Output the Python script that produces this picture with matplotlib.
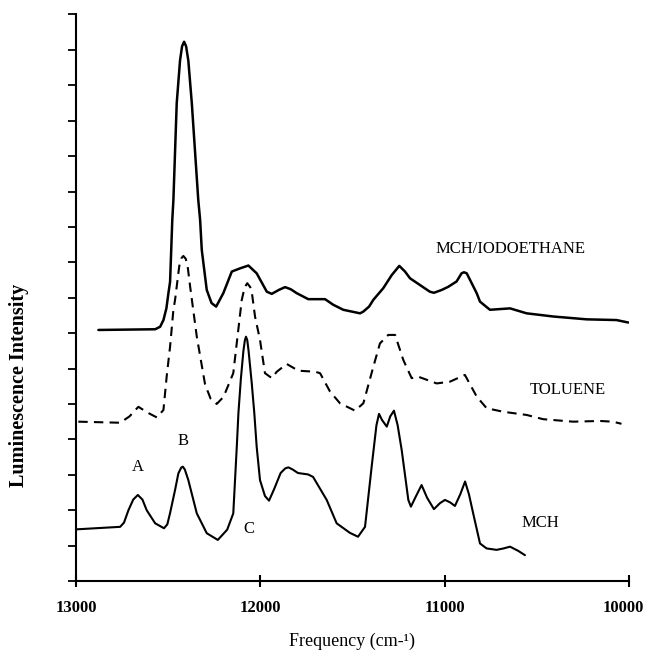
import matplotlib
matplotlib.use('Agg')
import matplotlib.pyplot as plt
import matplotlib.transforms as mtransforms

plt.rcParams['font.family'] = ['Liberation Serif', 'DejaVu Serif']

# MCH (solid, bottom)
mch_freq = [12996, 12761, 12740, 12716, 12690, 12665, 12640, 12617, 12571, 12523, 12505, 12490,
            12463, 12445, 12430, 12421, 12410, 12391, 12345, 12291, 12231, 12180, 12147,
            12128, 12119, 12106, 12092, 12084, 12078, 12071, 12064, 12047, 12033, 12020, 12002,
            11975, 11953, 11925, 11890, 11865, 11848, 11825, 11796, 11741, 11714, 11640, 11586,
            11514, 11470, 11432, 11396, 11370, 11356, 11340, 11314, 11295, 11275,
            11255, 11233, 11197, 11183, 11155, 11125, 11095, 11058, 11025, 10998,
            10970, 10944, 10915, 10889, 10868, 10845, 10808, 10772, 10718, 10680,
            10645, 10600, 10564]
mch_int = [1.46, 1.53, 1.65, 2.0, 2.3, 2.43, 2.3, 2.0, 1.63, 1.49, 1.6, 1.92,
           2.57, 3.04, 3.2, 3.23, 3.15, 2.85, 1.91, 1.35, 1.16, 1.45, 1.91,
           3.79, 4.75, 5.7, 6.5, 6.8, 6.9, 6.8, 6.5, 5.6, 4.75, 3.79, 2.85,
           2.4, 2.27, 2.6, 3.05, 3.18, 3.21, 3.15, 3.05, 3.01, 2.94, 2.29, 1.63,
           1.36, 1.25, 1.53, 3.23, 4.4, 4.72, 4.55, 4.36, 4.65, 4.81,
           4.4, 3.70, 2.29, 2.10, 2.4, 2.71, 2.35, 2.03, 2.2, 2.29,
           2.22, 2.12, 2.45, 2.81, 2.45, 1.91, 1.06, 0.92, 0.88, 0.92,
           0.97, 0.85, 0.73]

# Toluene (dashed, middle)
tol_freq = [12988, 12761, 12710, 12662, 12610, 12562, 12526, 12508, 12490, 12472,
            12463, 12440, 12428, 12418, 12405, 12395, 12381, 12345, 12300, 12270, 12237, 12200,
            12147, 12101, 12085, 12071, 12055, 12045, 12029, 12002, 11975, 11938, 11911, 11857,
            11794, 11703, 11676, 11622, 11568, 11486, 11441, 11387, 11351, 11306,
            11269, 11224, 11179, 11143, 11043, 10971, 10890, 10826, 10772, 10682,
            10555, 10465, 10302, 10157, 10087, 10040]
tol_int = [4.50, 4.47, 4.65, 4.92, 4.75, 4.62, 4.83, 5.8, 6.62, 7.66,
           7.94, 8.9, 9.12, 9.18, 9.1, 8.9, 8.31, 6.9, 5.55, 5.15, 5.0, 5.2,
           5.87, 7.94, 8.3, 8.41, 8.3, 8.1, 7.47, 6.81, 5.87, 5.73, 5.91, 6.13,
           5.94, 5.91, 5.87, 5.35, 5.02, 4.81, 5.02, 6.05, 6.71, 6.95,
           6.95, 6.24, 5.73, 5.77, 5.58, 5.63, 5.82, 5.21, 4.88, 4.78,
           4.69, 4.57, 4.50, 4.52, 4.50, 4.44]

# MCH/Iodoethane (solid, top)
iodo_freq = [12879, 12571, 12544, 12526, 12510, 12499, 12490, 12478, 12472, 12454,
             12436, 12425, 12414, 12403, 12391, 12372, 12337, 12327, 12318, 12291, 12265, 12240,
             12201, 12155, 12110, 12065, 12020, 11965, 11938, 11900, 11866, 11835, 11803, 11740,
             11649, 11604, 11550, 11459, 11441, 11410, 11387, 11333, 11287, 11246, 11215, 11188, 11134,
             11080, 11058, 11016, 10980, 10935, 10908, 10895, 10880, 10853, 10826, 10808, 10754,
             10645, 10555, 10410, 10229, 10067, 10003]
iodo_int = [7.09, 7.11, 7.18, 7.37, 7.7, 8.13, 8.45, 10.20, 10.76, 13.49,
            14.7, 15.1, 15.23, 15.1, 14.7, 13.49, 10.76, 10.20, 9.35, 8.22, 7.85, 7.75,
            8.13, 8.74, 8.83, 8.91, 8.69, 8.17, 8.11, 8.22, 8.30, 8.24, 8.13, 7.96,
            7.96, 7.80, 7.66, 7.56, 7.61, 7.75, 7.94, 8.27, 8.64, 8.90, 8.74, 8.55, 8.36,
            8.17, 8.14, 8.22, 8.31, 8.46, 8.69, 8.72, 8.69, 8.41, 8.13, 7.89, 7.66,
            7.70, 7.56, 7.47, 7.39, 7.37, 7.30]

x_ticks = [13000, 12000, 11000, 10000]

fig = plt.figure(figsize=(6.45, 6.58), dpi=100)
ax = fig.add_axes([0.118, 0.117, 0.857, 0.861])

ax.plot(iodo_freq, iodo_int, color='black', lw=1.8, solid_joinstyle='round', solid_capstyle='round')
ax.plot(tol_freq, tol_int, color='black', lw=1.5, linestyle=(0, (4.5, 3)))
ax.plot(mch_freq, mch_int, color='black', lw=1.5, solid_joinstyle='round', solid_capstyle='round')

ax.set_xlim(13000, 10000)
ax.set_ylim(0, 16)

for side in ['top', 'right']:
    ax.spines[side].set_visible(False)
for side in ['left', 'bottom']:
    ax.spines[side].set_linewidth(1.5)

ax.set_xticks(x_ticks)
ax.set_xticklabels([str(t) for t in x_ticks], fontweight='bold', fontsize=12)
ax.tick_params(axis='x', direction='inout', length=8, width=1.5, pad=10)
# last label sits against the right edge, nudge it in a little
last = ax.get_xticklabels()[-1]
last.set_transform(last.get_transform() + mtransforms.ScaledTranslation(-6 / 100, 0, fig.dpi_scale_trans))

ax.set_yticks(range(0, 17))
ax.set_yticklabels([])
ax.tick_params(axis='y', direction='out', length=6, width=1.3)

ax.set_xlabel('Frequency (cm-¹)', fontsize=13, labelpad=12)
ax.set_ylabel('Luminescence Intensity', fontsize=14.5, fontweight='bold')
ax.yaxis.set_label_coords(-0.085, 0.345)

ax.text(11052, 9.38, 'MCH/IODOETHANE', fontsize=12, va='center', ha='left')
ax.text(10537, 5.40, 'TOLUENE', fontsize=12, va='center', ha='left')
ax.text(10582, 1.63, 'MCH', fontsize=12, va='center', ha='left')
ax.text(12665, 3.21, 'A', fontsize=12, va='center', ha='center')
ax.text(12418, 3.95, 'B', fontsize=12, va='center', ha='center')
ax.text(12065, 1.46, 'C', fontsize=12, va='center', ha='center')

fig.savefig('out.png', dpi=100)
